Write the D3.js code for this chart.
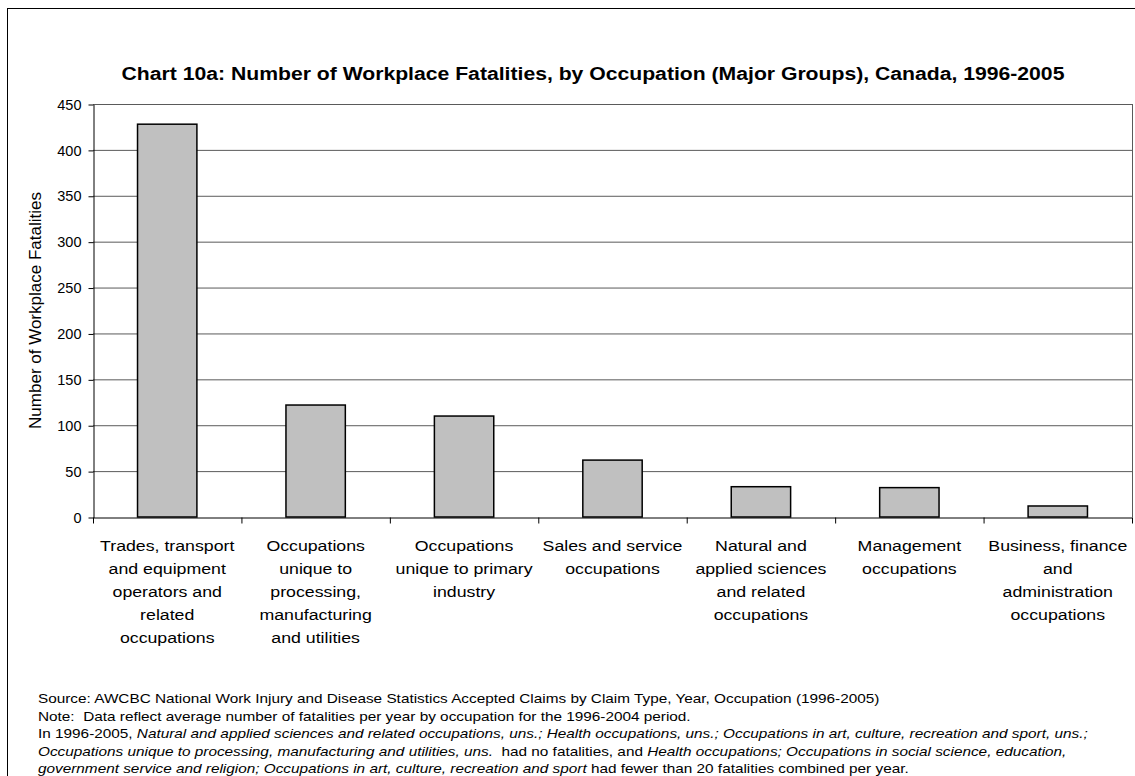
<!DOCTYPE html>
<html><head><meta charset="utf-8">
<script src="https://cdn.jsdelivr.net/npm/d3@7"></script>
<style>
html,body{margin:0;padding:0;background:#fff;}
svg{display:block;font-family:"Liberation Sans",Arial,sans-serif;}
</style></head>
<body><svg id="c" width="1135" height="776"></svg>
<script>
const categories = [
  ["Trades, transport","and equipment","operators and","related","occupations"],
  ["Occupations","unique to","processing,","manufacturing","and utilities"],
  ["Occupations","unique to primary","industry"],
  ["Sales and service","occupations"],
  ["Natural and","applied sciences","and related","occupations"],
  ["Management","occupations"],
  ["Business, finance","and","administration","occupations"]
];
const categoryIds = ["trades","processing","primary","sales","natural","management","business"];
const values = [428, 122, 110, 62, 33, 32, 12];
const yTicks = [0,50,100,150,200,250,300,350,400,450];
const titleText = "Chart 10a: Number of Workplace Fatalities, by Occupation (Major Groups), Canada, 1996-2005";
const yLabel = "Number of Workplace Fatalities";
const notes = [
  [["Source: AWCBC National Work Injury and Disease Statistics Accepted Claims by Claim Type, Year, Occupation (1996-2005)", false]],
  [["Note:\u00a0 Data reflect average number of fatalities per year by occupation for the 1996-2004 period.", false]],
  [["In 1996-2005, ", false],["Natural and applied sciences and related occupations, uns.; Health occupations, uns.; Occupations in art, culture, recreation and sport, uns.;", true]],
  [["Occupations unique to processing, manufacturing and utilities, uns.", true],["\u00a0 had no fatalities, and ", false],["Health occupations; Occupations in social science, education,", true]],
  [["government service and religion; Occupations in art, culture, recreation and sport", true],["\u00a0had fewer than 20 fatalities combined per year.", false]]
];

const svg = d3.select("#c");
svg.append("rect").attr("x",7.5).attr("y",8.5).attr("width",1140).attr("height",780)
  .attr("fill","none").attr("stroke","#000").attr("stroke-width",1);

svg.append("text").attr("transform","translate(593,80) scale(1.19,1)").attr("text-anchor","middle")
  .attr("font-size",17.8).attr("font-weight","bold").text(titleText);

const m = {left:93, top:104, right:1132, bottom:517};
const x = d3.scaleBand().domain(categoryIds).range([m.left,m.right]).paddingInner(0).paddingOuter(0);
const y = d3.scaleLinear().domain([0,450]).range([m.bottom,m.top]);

svg.append("g").selectAll("line").data(yTicks.filter(d=>d>0)).join("line")
  .attr("x1",m.left).attr("x2",m.right).attr("y1",d=>y(d)+0.5).attr("y2",d=>y(d)+0.5)
  .attr("stroke","#5a5a5a").attr("stroke-width",1);
svg.append("line").attr("x1",m.right+0.5).attr("x2",m.right+0.5).attr("y1",m.top).attr("y2",m.bottom)
  .attr("stroke","#5a5a5a");

const bw = x.bandwidth()*0.4;
svg.append("g").selectAll("rect").data(values).join("rect")
  .attr("x",(d,i)=>x(categoryIds[i])+(x.bandwidth()-bw)/2)
  .attr("y",d=>y(d))
  .attr("width",bw).attr("height",d=>y(0)-y(d))
  .attr("fill","#c0c0c0").attr("stroke","#000").attr("stroke-width",1.5);

const ya = svg.append("g").attr("transform",`translate(${m.left+0.5},0.5)`)
  .call(d3.axisLeft(y).tickValues(yTicks).tickSize(5).tickSizeOuter(0));
ya.select(".domain").attr("stroke","#000");
ya.selectAll(".tick line").attr("stroke","#000");
ya.selectAll(".tick text").attr("font-size",14.5).attr("font-family","Liberation Sans, Arial, sans-serif").attr("fill","#000").attr("x",-12);

const xa = svg.append("g").attr("transform",`translate(0,${m.bottom+0.5})`)
  .call(d3.axisBottom(x).tickSize(0).tickFormat(""));
xa.select(".domain").attr("stroke","#000");
const bounds = categoryIds.map(c=>x(c)).concat([m.right]);
xa.selectAll("line.tk").data(bounds).join("line").attr("class","tk")
  .attr("x1",d=>d+0.5).attr("x2",d=>d+0.5).attr("y1",0).attr("y2",6).attr("stroke","#000");

const cl = svg.append("g");
categories.forEach((lines,i)=>{
  const cx = x(categoryIds[i])+x.bandwidth()/2;
  const t = cl.append("text").attr("text-anchor","middle").attr("font-size",15.3)
    .attr("transform",`translate(${cx},551) scale(1.16,1)`);
  lines.forEach((ln,j)=>t.append("tspan").attr("x",0).attr("y",j*23).text(ln));
});

svg.append("text").attr("transform",`translate(41,${(m.top+m.bottom)/2}) rotate(-90)`)
  .attr("text-anchor","middle").attr("font-size",17).text(yLabel);

notes.forEach((parts,i)=>{
  const t = svg.append("text").attr("transform",`translate(38,${703+i*17.6}) scale(1.19,1)`).attr("font-size",12.9);
  parts.forEach(p=>t.append("tspan").attr("font-style",p[1]?"italic":"normal").text(p[0]));
});
</script></body></html>
